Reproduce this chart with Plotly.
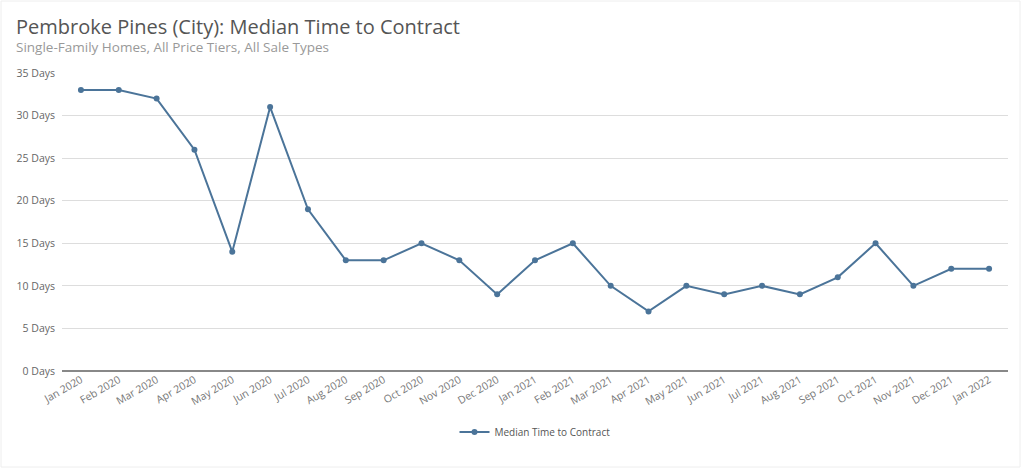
import plotly.graph_objects as go

months = ["Jan 2020", "Feb 2020", "Mar 2020", "Apr 2020", "May 2020", "Jun 2020",
          "Jul 2020", "Aug 2020", "Sep 2020", "Oct 2020", "Nov 2020", "Dec 2020",
          "Jan 2021", "Feb 2021", "Mar 2021", "Apr 2021", "May 2021", "Jun 2021",
          "Jul 2021", "Aug 2021", "Sep 2021", "Oct 2021", "Nov 2021", "Dec 2021",
          "Jan 2022"]
days = [33, 33, 32, 26, 14, 31, 19, 13, 13, 15, 13, 9,
        13, 15, 10, 7, 10, 9, 10, 9, 11, 15, 10, 12, 12]
y_ticks = [0, 5, 10, 15, 20, 25, 30, 35]
y_ticklabels = [f"{v} Days" for v in y_ticks]

W, H = 1024, 469
L, R, T, B = 62, 16, 73, 98
pw, ph = W - L - R, H - T - B

def px(p):
    return (p - L) / pw

def py(q):
    return (H - B - q) / ph

color = "#4b7499"
font = "Open Sans, Noto Sans, sans-serif"

fig = go.Figure()
fig.add_trace(go.Scatter(
    x=months, y=days, mode="lines+markers", name="Median Time to Contract",
    line=dict(color=color, width=2), marker=dict(color=color, size=6),
))

fig.update_layout(
    width=W, height=H,
    margin=dict(l=L, r=R, t=T, b=B),
    paper_bgcolor="white", plot_bgcolor="white",
    font=dict(family=font, color="#666", size=10),
    showlegend=True,
    legend=dict(orientation="h", x=0.5, xanchor="center", y=py(432), yanchor="middle",
                font=dict(size=10, color="#555")),
    xaxis=dict(type="category", range=[-0.5, len(months) - 0.5], tickangle=-30,
               showgrid=False, showline=False, ticks="", tickfont=dict(size=10.5, color="#777"),
               fixedrange=True),
    yaxis=dict(range=[0, 35], tickvals=y_ticks, ticktext=y_ticklabels,
               showgrid=True, gridcolor="#dddddd", gridwidth=1,
               zeroline=True, zerolinecolor="#888", zerolinewidth=1.5,
               showline=False, ticks="", tickfont=dict(size=10.5, color="#666"),
               ticklabelstandoff=6, fixedrange=True),
    annotations=[
        dict(text="Pembroke Pines (City): Median Time to Contract", xref="paper", yref="paper",
             x=px(14), y=py(27), xanchor="left", yanchor="middle", showarrow=False,
             font=dict(size=20, color="#555", family=font)),
        dict(text="Single-Family Homes, All Price Tiers, All Sale Types", xref="paper", yref="paper",
             x=px(14), y=py(47), xanchor="left", yanchor="middle", showarrow=False,
             font=dict(size=13.5, color="#999", family=font)),
    ],
    shapes=[
        dict(type="rect", xref="paper", yref="paper", x0=px(1), x1=px(1020), y0=py(467), y1=py(1),
             line=dict(color="#eeeeee", width=1), fillcolor="rgba(0,0,0,0)", layer="below"),
    ],
)

fig.write_html("out.html", config={"displayModeBar": False},
               post_script="document.body.style.margin='0';document.body.style.overflow='hidden';")
